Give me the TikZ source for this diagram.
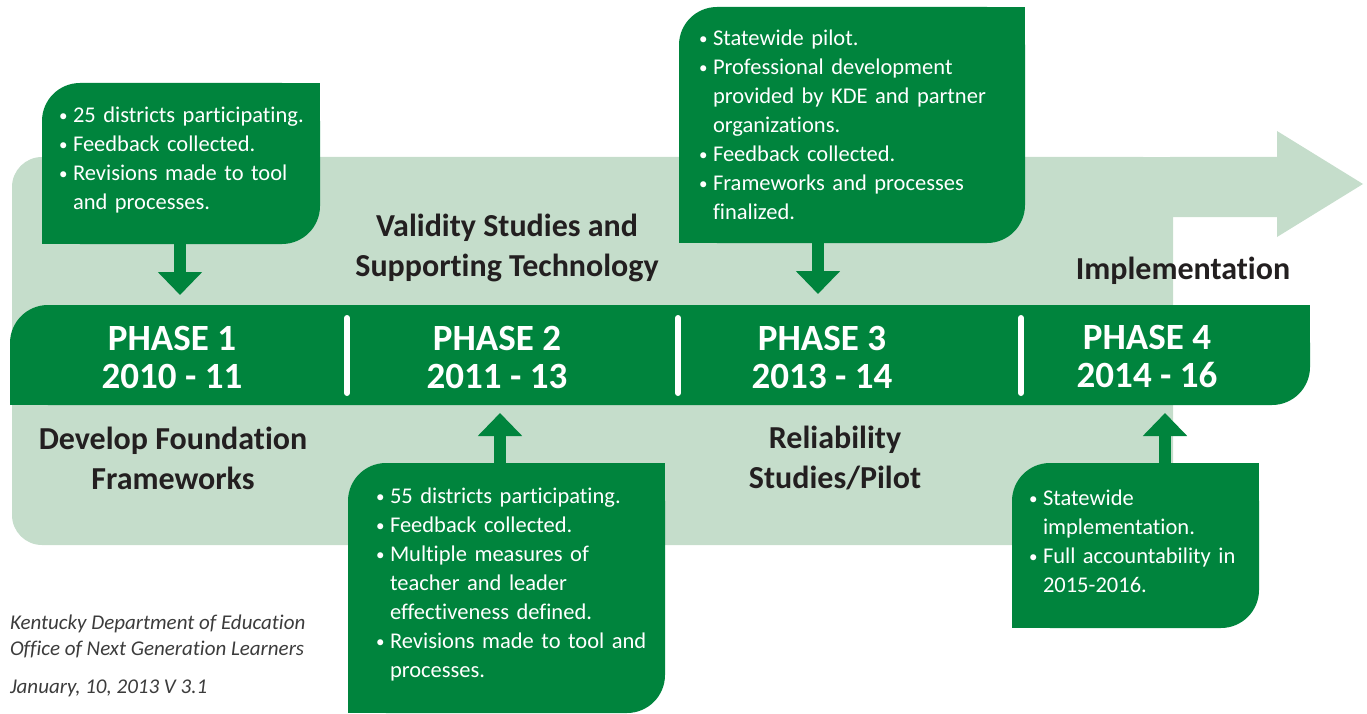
\documentclass[tikz,border=0pt]{standalone}
\usepackage{fontspec}
\setmainfont{Carlito}[Ligatures=NoCommon]
\usetikzlibrary{backgrounds,arrows.meta}

\definecolor{dkgreen}{HTML}{00843D}
\definecolor{ltgreen}{HTML}{C5DDCB}
\definecolor{ink}{HTML}{231F20}
\definecolor{footgray}{HTML}{3C3C3C}

\newcommand\blt{\makebox[13pt][l]{\hspace{-1pt}\raisebox{1pt}{\fontsize{17}{17}\selectfont\textbullet}}}

\begin{document}
\begin{tikzpicture}[
  x=1pt, y=-1pt,
  every node/.style={inner sep=0pt, outer sep=0pt},
  panel/.style={anchor=north west, text=white, align=left, inner ysep=0pt,
                font=\fontsize{22.5}{29}\selectfont},
  phase/.style={text=white, align=center,
                font=\bfseries\fontsize{37}{38}\selectfont},
  stage/.style={text=ink, align=center,
                font=\bfseries\fontsize{32}{40}\selectfont},
  foot/.style={anchor=base west, text=footgray,
               font=\itshape\fontsize{21}{26}\selectfont},
  callarrow/.style={draw=dkgreen, line width=12pt,
                    -{Triangle[width=43pt,length=23pt]}},
  divider/.style={white, line width=6pt, line cap=round},
]
\useasboundingbox (0,0) rectangle (1367,714);

% ================================================================
% Timeline band and phases
% ================================================================
\node[anchor=north west, minimum width=1300pt, minimum height=100pt]
  (band) at (10,305) {};

\foreach \i/\x/\yr in {1/172/2010 - 11, 2/497/2011 - 13,
                       3/822/2013 - 14, 4/1147/2014 - 16}
  \node[phase] (p\i) at (\x,357) {PHASE \i\\\yr};

% white separators between the phases
\foreach \x in {347, 678, 1021}
  \draw[divider] (\x,318) -- (\x,393);

% --- Stage titles ---
\node[stage] (s1) at (173,458) {Develop Foundation\\Frameworks};
\node[stage] (s2) at (507,248) {Validity Studies and\\Supporting Technology};
\node[stage] (s3) at (835,458) {Reliability\\Studies/Pilot};
\node[stage] (s4) at (1183,271) {Implementation};

% ================================================================
% Callouts
% ================================================================
\node[panel, minimum width=278pt, minimum height=161pt,
      inner xsep=18pt, text width=242pt] (c1) at (42,83)
  {\raisebox{3pt}[\height][\depth]{\begin{tabular}{@{}l@{}l@{}}
   \blt & 25 districts participating.\\
   \blt & Feedback collected.\\
   \blt & Revisions made to tool\\
        & and processes.
   \end{tabular}}};

\node[panel, minimum width=317pt, minimum height=250pt,
      inner xsep=29pt, text width=259pt] (c2) at (348,463)
  {\raisebox{3pt}[\height][\depth]{\begin{tabular}{@{}l@{}l@{}}
   \blt & 55 districts participating.\\
   \blt & Feedback collected.\\
   \blt & Multiple measures of\\
        & teacher and leader\\
        & effectiveness defined.\\
   \blt & Revisions made to tool and\\
        & processes.
   \end{tabular}}};

\node[panel, minimum width=346pt, minimum height=236pt,
      inner xsep=21pt, text width=304pt] (c3) at (679,7)
  {\raisebox{-2pt}[\height][\depth]{\begin{tabular}{@{}l@{}l@{}}
   \blt & Statewide pilot.\\
   \blt & Professional development\\
        & provided by KDE and partner\\
        & organizations.\\
   \blt & Feedback collected.\\
   \blt & Frameworks and processes\\
        & finalized.
   \end{tabular}}};

\node[panel, minimum width=247pt, minimum height=165pt,
      inner xsep=18pt, text width=211pt] (c4) at (1012,463)
  {\raisebox{2pt}[\height][\depth]{\begin{tabular}{@{}l@{}l@{}}
   \blt & Statewide\\
        & implementation.\\
   \blt & Full accountability in\\
        & 2015-2016.
   \end{tabular}}};

% --- Arrows from the callouts to the band ---
\coordinate (t1) at (180,295);
\coordinate (t2) at (500,413);
\coordinate (t3) at (818,294);
\coordinate (t4) at (1165,413);
\draw[callarrow] (c1.south -| t1) -- (t1);
\draw[callarrow] (c2.north -| t2) -- (t2);
\draw[callarrow] (c3.south -| t3) -- (t3);
\draw[callarrow] (c4.north -| t4) -- (t4);

% ================================================================
% Footer
% ================================================================
\node[foot] (ft1) at (10,629) {Kentucky Department of Education};
\node[foot] (ft2) at (10,655) {Office of Next Generation Learners};
\node[foot] (ft3) at (10,693) {January, 10, 2013 V 3.1};

% ================================================================
% Shapes behind the text
% ================================================================
\begin{scope}[on background layer]
  % big light arrow
  \fill[ltgreen, rounded corners=30pt] (12,157) rectangle (1173,545);
  \fill[ltgreen] (100,157) rectangle (1173,545);
  \fill[ltgreen] (1170,157) -- (1277,157) -- (1277,131) -- (1363,184)
    -- (1277,237) -- (1277,217) -- (1170,217) -- cycle;

  % green panels: round top-left and bottom-right corners
  \foreach \b in {band, c1, c2, c3, c4} {
    \fill[dkgreen, rounded corners=38pt] (\b.south west) rectangle (\b.north east);
    \fill[dkgreen] (\b.north east) rectangle (\b.center);
    \fill[dkgreen] (\b.south west) rectangle (\b.center);
  }
\end{scope}

\end{tikzpicture}
\end{document}
